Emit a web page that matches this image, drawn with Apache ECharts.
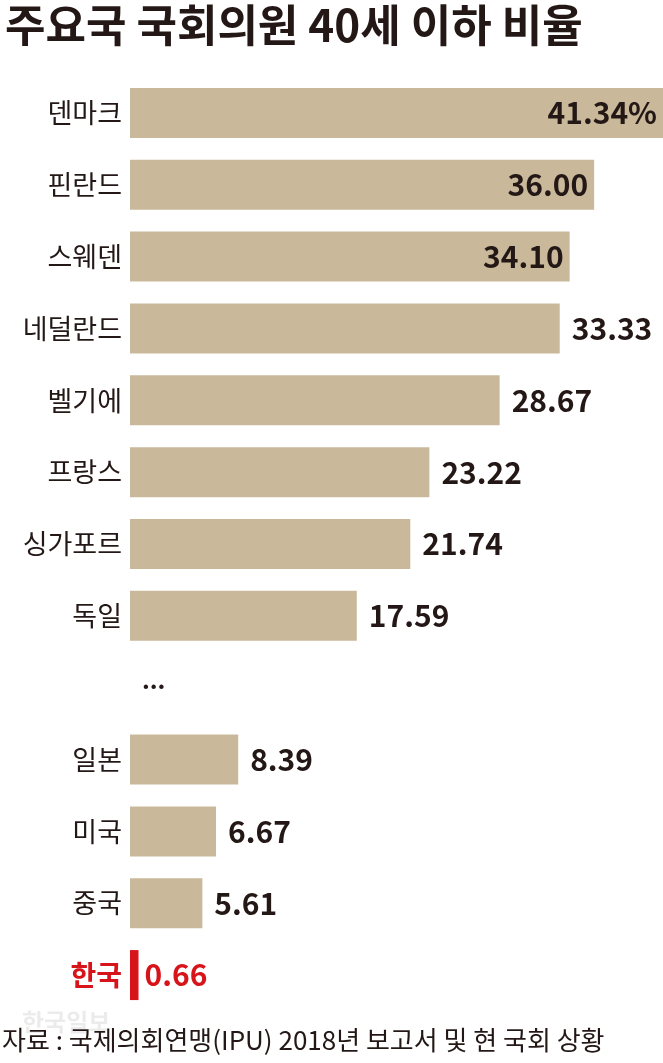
<!DOCTYPE html>
<html><head><meta charset="utf-8">
<script src="https://cdn.jsdelivr.net/npm/echarts@6/dist/echarts.min.js"></script>
<style>html,body{margin:0;padding:0;background:#fff}#c{width:663px;height:1063px}</style>
</head><body><div id="c"></div>
<script>
const categories = ['덴마크','핀란드','스웨덴','네덜란드','벨기에','프랑스','싱가포르','독일','','일본','미국','중국','한국'];
const values = [41.34,36.00,34.10,33.33,28.67,23.22,21.74,17.59,null,8.39,6.67,5.61,0.66];
const valueLabels = ['41.34%','36.00','34.10','33.33','28.67','23.22','21.74','17.59','...','8.39','6.67','5.61','0.66'];
const insideCount = 3;

const chart = echarts.init(document.getElementById('c'));
const data = values.map((v,i)=>{
  const isKR = categories[i]==='한국';
  const item = {value: v===null?0:v, itemStyle:{color: isKR?'#d7141a':'#c9b99a'}};
  item.label = {
    show:true,
    position: i<insideCount?'insideRight':'right',
    distance: i<insideCount?6:12,
    formatter: valueLabels[i],
    color: isKR?'#d7141a':'#231815',
    fontSize: v===null?24:30, fontWeight:'bold', fontFamily:'Noto Sans CJK KR',
    offset: v===null?[0,-8]:[0,0]
  };
  if (isKR) item.label.distance = 6;
  return item;
});
chart.setOption({
  animation:false,
  title:{text:'주요국 국회의원 40세 이하 비율',left:0,top:-2,
    textStyle:{fontSize:44,fontWeight:'bold',color:'#231815',fontFamily:'Noto Sans CJK KR'}},
  grid:{left:130,right:0,top:77,bottom:52},
  xAxis:{type:'value',min:0,max:41.34,show:false},
  yAxis:{type:'category',inverse:true,data:categories,
    axisLine:{show:false},axisTick:{show:false},
    axisLabel:{margin:8,fontSize:27,color:'#231815',fontFamily:'Noto Sans CJK KR',
      formatter:v=>v==='한국'?'{kr|'+v+'}':v,
      rich:{kr:{color:'#d7141a',fontWeight:'bold',fontSize:28,fontFamily:'Noto Sans CJK KR'}}}},
  series:[{type:'bar',data:data,barWidth:50}],
  graphic:[
    {type:'text',left:22,top:1010,style:{text:'한국일보',fontSize:24,fontWeight:'bold',fill:'rgba(0,0,0,0.08)',fontFamily:'Noto Sans CJK KR'}},
    {type:'text',left:2,top:1027,style:{text:'자료 : 국제의회연맹(IPU) 2018년 보고서 및 현 국회 상황',fontSize:26,fill:'#231815',fontFamily:'Noto Sans CJK KR'}}
  ]
});
</script></body></html>
